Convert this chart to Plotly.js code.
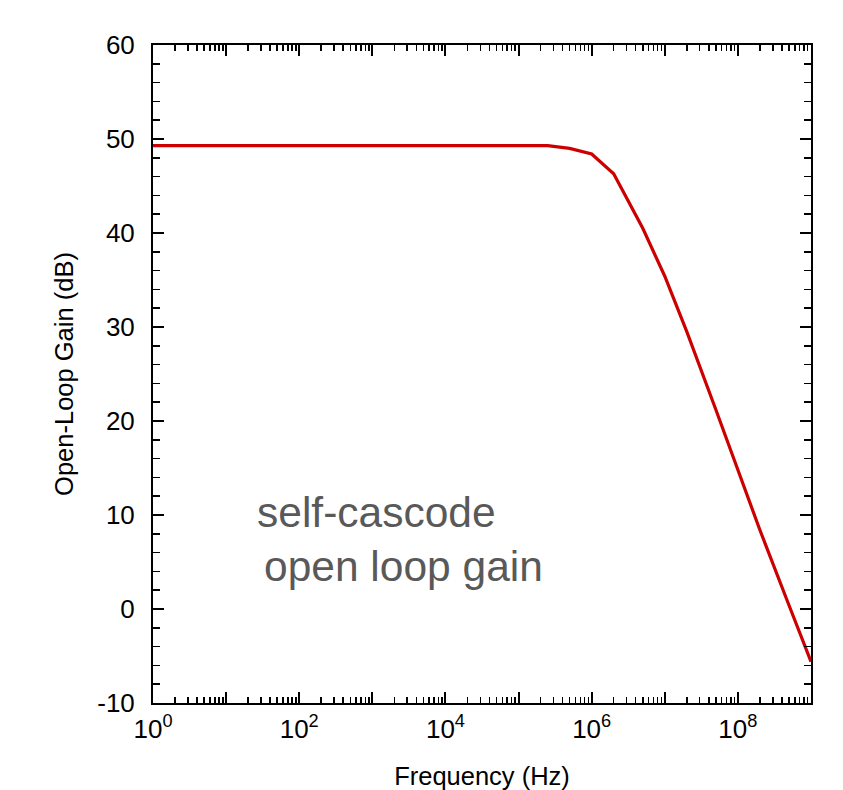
<!DOCTYPE html>
<html>
<head>
<meta charset="utf-8">
<script src="https://cdn.plot.ly/plotly-3.0.1.min.js"></script>
<style>html,body{margin:0;padding:0;background:#fff;}#chart{width:843px;height:790px;}</style>
</head>
<body>
<div id="chart"></div>
<script>
// Data
const frequencyHz = [1, 10, 100, 1e3, 1e4, 1e5, 2.5e5, 5e5, 1e6, 2e6, 3e6, 5e6, 1e7, 1.5e7, 2e7, 5e7, 1e8, 2e8, 5e8, 1e9];
const gainDb      = [49.3, 49.3, 49.3, 49.3, 49.3, 49.3, 49.3, 49.0, 48.4, 46.3, 43.8, 40.5, 35.4, 32.0, 29.5, 21.2, 14.9, 8.4, 0.4, -5.6];

const decadeVals = [1, 10, 100, 1e3, 1e4, 1e5, 1e6, 1e7, 1e8, 1e9];
const decadeText = ['10<sup>0</sup>', '', '10<sup>2</sup>', '', '10<sup>4</sup>', '', '10<sup>6</sup>', '', '10<sup>8</sup>', ''];

const gainTickVals = [-10, 0, 10, 20, 30, 40, 50, 60];
const gainTickText = ['-10', '0', '10', '20', '30', '40', '50', '60'];

const minorX = [];
for (let d = 0; d < 9; d++) {
  for (let k = 2; k <= 9; k++) minorX.push(k * Math.pow(10, d));
}

const trace = {
  x: frequencyHz,
  y: gainDb,
  type: 'scatter',
  mode: 'lines',
  line: {color: '#cc0000', width: 3.2},
  hoverinfo: 'skip'
};

const fontFam = 'Liberation Sans, Arial, Helvetica, sans-serif';

const layout = {
  width: 843,
  height: 790,
  margin: {l: 153, r: 32, t: 45, b: 87},
  paper_bgcolor: '#fff',
  plot_bgcolor: '#fff',
  showlegend: false,
  font: {family: fontFam, color: '#000'},
  xaxis: {
    type: 'log',
    range: [0, 9],
    tickmode: 'array',
    tickvals: decadeVals,
    ticktext: decadeText,
    ticks: 'inside',
    ticklen: 11,
    tickwidth: 2,
    tickcolor: '#000',
    minor: {tickmode: 'array', tickvals: minorX, ticks: 'inside', ticklen: 6, tickwidth: 1.5, tickcolor: '#000', showgrid: false},
    showline: true,
    linecolor: '#000',
    linewidth: 2,
    mirror: 'allticks',
    showgrid: false,
    zeroline: false,
    tickfont: {size: 26, family: fontFam, color: '#000'},
    ticklabelstandoff: 2,
    title: {text: 'Frequency (Hz)', font: {size: 25.5, family: fontFam, color: '#000'}, standoff: 24}
  },
  yaxis: {
    range: [-10, 60],
    tickmode: 'array',
    tickvals: gainTickVals,
    ticktext: gainTickText,
    ticks: 'inside',
    ticklen: 11,
    tickwidth: 2,
    tickcolor: '#000',
    minor: {tickmode: 'linear', tick0: -10, dtick: 2, ticks: 'inside', ticklen: 7, tickwidth: 1.5, tickcolor: '#000', showgrid: false},
    showline: true,
    linecolor: '#000',
    linewidth: 2,
    mirror: 'allticks',
    showgrid: false,
    zeroline: false,
    tickfont: {size: 26, family: fontFam, color: '#000'},
    ticklabelstandoff: 11,
    title: {text: 'Open-Loop Gain (dB)', font: {size: 25.5, family: fontFam, color: '#000'}, standoff: 16}
  },
  annotations: [
    {text: 'self-cascode', xref: 'paper', yref: 'paper', x: 0.155, y: 0.29, xanchor: 'left', yanchor: 'middle', showarrow: false,
     font: {size: 42.5, family: fontFam, color: '#595959'}},
    {text: 'open loop gain', xref: 'paper', yref: 'paper', x: 0.166, y: 0.207, xanchor: 'left', yanchor: 'middle', showarrow: false,
     font: {size: 42.5, family: fontFam, color: '#595959'}}
  ]
};

Plotly.newPlot('chart', [trace], layout, {staticPlot: true, displayModeBar: false});
</script>
</body>
</html>
